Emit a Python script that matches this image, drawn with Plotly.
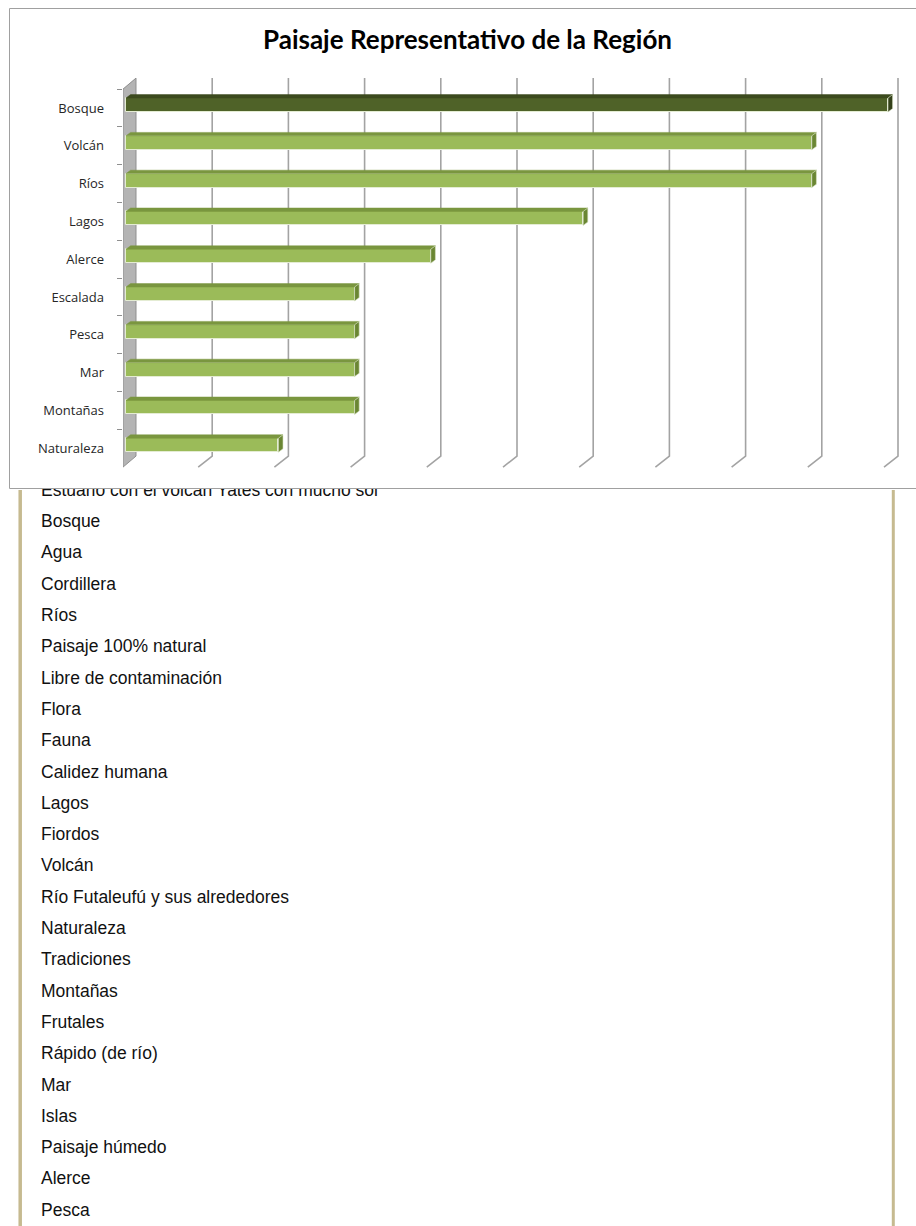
import plotly.graph_objects as go

# ---------------- data ----------------
title_text = "Paisaje Representativo de la Región"
categories = ["Bosque", "Volcán", "Ríos", "Lagos", "Alerce",
              "Escalada", "Pesca", "Mar", "Montañas", "Naturaleza"]
values = [10, 9, 9, 6, 4, 3, 3, 3, 3, 2]
grid_ticks = [1, 2, 3, 4, 5, 6, 7, 8, 9, 10]
list_items = [
    "Estuario con el volcán Yates con mucho sol",
    "Bosque", "Agua", "Cordillera", "Ríos", "Paisaje 100% natural",
    "Libre de contaminación", "Flora", "Fauna", "Calidez humana",
    "Lagos", "Fiordos", "Volcán", "Río Futaleufú y sus alrededores",
    "Naturaleza", "Tradiciones", "Montañas", "Frutales",
    "Rápido (de río)", "Mar", "Islas", "Paisaje húmedo", "Alerce", "Pesca",
]

# ---------------- geometry / style ----------------
W, H = 916, 1226
PL, PR, PT, PB = 123, 910, 74, 472          # plot area in px
X0_PX, PX_PER_X = 126, 76.2                 # value 0 (front plane) and px per unit
U0_PX, PX_PER_U = 108, 37.8                 # first category centre and px per category

x_range = [(PL - X0_PX) / PX_PER_X, (PR - X0_PX) / PX_PER_X]
u_range = [(PB - U0_PX) / PX_PER_U, (PT - U0_PX) / PX_PER_U]   # reversed
y_dom = [1 - PB / H, 1 - PT / H]
x_dom = [PL / W, PR / W]

DEPTH_X = 10 / PX_PER_X     # back wall offset
DEPTH_U = 11 / PX_PER_U
WALL_FRONT_X = x_range[0]
BAR_W = 14 / PX_PER_U
BAR_SHIFT = 3 / PX_PER_U
BAR_DX = 4.6 / PX_PER_X
BAR_DU = 3.4 / PX_PER_U
TAIL_X = 4 / PX_PER_X

vmax = max(values)
front_cols = ["#4f6228" if v == vmax else "#9bbb59" for v in values]
top_cols = ["#3c4b1e" if v == vmax else "#7a963f" for v in values]
cap_cols = ["#34411a" if v == vmax else "#6a8633" for v in values]

fig = go.Figure()

n = len(categories)
u_front_top, u_front_bot = -0.5, n - 0.5
u_back_top, u_back_bot = u_front_top - DEPTH_U, u_front_bot - DEPTH_U

# side wall (base subplot)
fig.add_trace(go.Scatter(
    x=[WALL_FRONT_X, DEPTH_X, DEPTH_X, WALL_FRONT_X, WALL_FRONT_X],
    y=[u_front_top, u_back_top, u_back_bot, u_front_bot, u_front_top],
    mode="lines", fill="toself", fillcolor="#b4b4b4",
    line=dict(color="#8f8f8f", width=1), xaxis="x", yaxis="y",
    hoverinfo="skip", cliponaxis=False))

# gridlines (back plane + tail to front)
gx, gy = [], []
for k in grid_ticks:
    gx += [k + DEPTH_X, k + DEPTH_X, k - TAIL_X, None]
    gy += [u_back_top, u_back_bot, u_front_bot, None]
fig.add_trace(go.Scatter(x=gx, y=gy, mode="lines",
                         line=dict(color="#a3a3a3", width=1.6),
                         xaxis="x", yaxis="y", hoverinfo="skip",
                         cliponaxis=False))

# front faces of bars (categorical overlay)
fig.add_trace(go.Bar(
    y=categories, x=values, orientation="h",
    width=BAR_W, offset=-BAR_SHIFT - BAR_W / 2,
    marker=dict(color=front_cols, line=dict(color="#e4ecd3", width=1)),
    xaxis="x", yaxis="y2", hoverinfo="skip"))

# top faces and end caps (top overlay)
for i, v in enumerate(values):
    ut = i - BAR_SHIFT - BAR_W / 2
    ub = i - BAR_SHIFT + BAR_W / 2
    fig.add_trace(go.Scatter(
        x=[0, v, v + BAR_DX, BAR_DX, 0],
        y=[ut, ut, ut - BAR_DU, ut - BAR_DU, ut],
        mode="lines", fill="toself", fillcolor=top_cols[i],
        line=dict(color=top_cols[i], width=0.5),
        xaxis="x", yaxis="y3", hoverinfo="skip", cliponaxis=False))
    fig.add_trace(go.Scatter(
        x=[v, v + BAR_DX, v + BAR_DX, v, v],
        y=[ut, ut - BAR_DU, ub - BAR_DU, ub, ut],
        mode="lines", fill="toself", fillcolor=cap_cols[i],
        line=dict(color="#d9e3c4", width=0.6),
        xaxis="x", yaxis="y3", hoverinfo="skip", cliponaxis=False))

# text list below the chart
LIST_TOP_PX, ROW0_PX, ROW_PX, TEXT_X_PX = 488, 491.5, 31.3, 41
fig.add_trace(go.Scatter(
    x=[0] * len(list_items), y=list(range(len(list_items))),
    text=list_items, mode="text", textposition="middle right",
    textfont=dict(family="Liberation Sans, Arial", size=17.5, color="#111111"),
    xaxis="x2", yaxis="y4", hoverinfo="skip", cliponaxis=True))

axis_off = dict(visible=False, showgrid=False, zeroline=False)

fig.update_layout(
    width=W, height=H, margin=dict(l=0, r=0, t=0, b=0),
    paper_bgcolor="white", plot_bgcolor="rgba(0,0,0,0)",
    showlegend=False, bargap=0,
    xaxis=dict(domain=x_dom, range=x_range, anchor="y", **axis_off),
    yaxis=dict(domain=y_dom, range=u_range, anchor="x", **axis_off),
    yaxis2=dict(overlaying="y", anchor="x", side="left", type="category",
                categoryorder="array", categoryarray=categories,
                range=u_range, showgrid=False, zeroline=False, showline=False,
                ticks="outside", tickson="boundaries", ticklen=5,
                tickcolor="#8f8f8f", tickwidth=1, ticklabelstandoff=18,
                tickfont=dict(family="Open Sans", size=13, color="#262626")),
    yaxis3=dict(overlaying="y", anchor="x", range=u_range, **axis_off),
    xaxis2=dict(domain=[0, 1], range=[-TEXT_X_PX, W - TEXT_X_PX],
                anchor="y4", **axis_off),
    yaxis4=dict(domain=[0, 1 - LIST_TOP_PX / H],
                range=[(H - ROW0_PX) / ROW_PX, (LIST_TOP_PX - ROW0_PX) / ROW_PX],
                anchor="x2", **axis_off),
    annotations=[dict(text="<b>" + title_text + "</b>", x=467.5 / W,
                      y=1 - 39 / H, xref="paper", yref="paper",
                      xanchor="center", yanchor="middle", showarrow=False,
                      font=dict(family="Lato", size=26, color="#000000"))],
    shapes=[
        dict(type="rect", xref="paper", yref="paper", x0=9.5 / W, x1=1.01,
             y0=1 - 488.5 / H, y1=1 - 8.5 / H,
             line=dict(color="#a0a0a0", width=1)),
        dict(type="line", xref="paper", yref="paper", x0=20.2 / W, x1=20.2 / W,
             y0=0, y1=1 - 490 / H, line=dict(color="#c6ba90", width=3.5)),
        dict(type="line", xref="paper", yref="paper", x0=893.3 / W, x1=893.3 / W,
             y0=0, y1=1 - 490 / H, line=dict(color="#c6ba90", width=3)),
    ],
)

fig.write_html("out.html")
